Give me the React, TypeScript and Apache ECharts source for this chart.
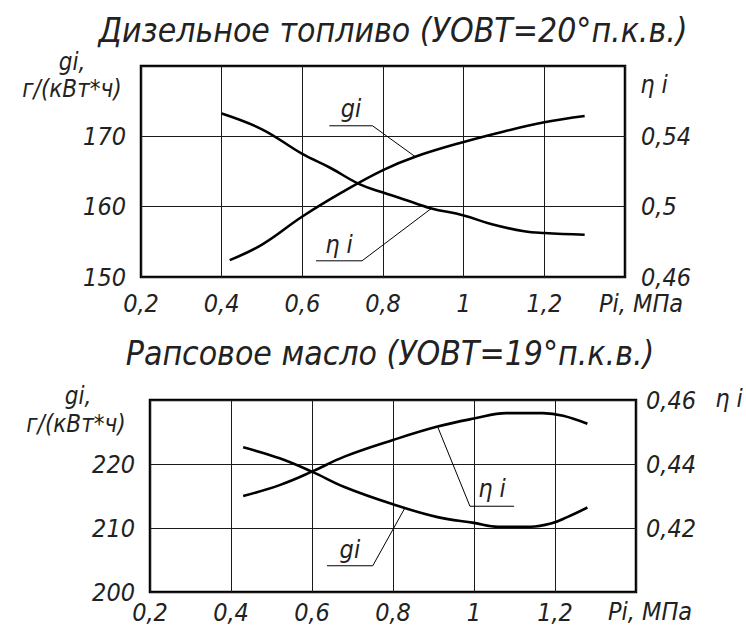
import React, { useEffect, useRef } from 'react';
import * as echarts from 'echarts';

// Mean effective pressure axis, MPa
const piMin = 0.2;
const piMax = 1.4;
const piStep = 0.2;

// Diesel fuel (injection advance 20° crank angle)
const dieselGiPi = [0.42, 0.5, 0.6, 0.7, 0.8, 0.88, 1.0, 1.1, 1.2, 1.3];
const dieselGi = [152.4, 154.6, 158.6, 162.1, 165.2, 167.1, 169.2, 170.7, 172.0, 172.9];
const dieselEtaPi = [0.4, 0.5, 0.6, 0.67, 0.74, 0.8, 0.88, 0.92, 1.0, 1.07, 1.15, 1.2, 1.3];
const dieselEta = [0.553, 0.544, 0.53, 0.522, 0.513, 0.508, 0.502, 0.499, 0.495, 0.49, 0.486, 0.485, 0.484];

// Rapeseed oil (injection advance 19° crank angle)
const rapeGiPi = [0.43, 0.52, 0.6, 0.68, 0.8, 0.91, 1.0, 1.06, 1.14, 1.19, 1.23, 1.28];
const rapeGi = [222.6, 220.9, 218.8, 216.4, 213.7, 211.7, 210.8, 210.2, 210.2, 210.7, 211.7, 213.2];
const rapeEtaPi = [0.43, 0.52, 0.6, 0.68, 0.8, 0.91, 1.0, 1.08, 1.17, 1.22, 1.28];
const rapeEta = [0.43, 0.4334, 0.4376, 0.4423, 0.4475, 0.4517, 0.4542, 0.4559, 0.4559, 0.4551, 0.4526];

// Axis ranges: [min, max, step]
const dieselGiRange = [150, 180, 10];
const dieselEtaRange = [0.46, 0.58, 0.04];
const rapeGiRange = [200, 230, 10];
const rapeEtaRange = [0.4, 0.46, 0.02];

// Titles and captions
const titleDiesel = 'Дизельное топливо (УОВТ=20°п.к.в.)';
const titleRape = 'Рапсовое масло (УОВТ=19°п.к.в.)';
const giName = 'gi,';
const giUnit = 'г/(кВт*ч)';
const etaName = 'η i';
const piName = 'Pi, МПа';

// Callout labels: [text, grid, yAxis, shelf x1, shelf x2, shelf y, text y, leader side, anchor x, anchor y]
const callouts: [string, number, number, number, number, number, number, 'left' | 'right', number, number][] = [
  ['gi', 0, 0, 0.667, 0.774, 171.5, 173.9, 'right', 0.88, 167.1],
  ['η i', 0, 1, 0.634, 0.748, 0.4692, 0.4784, 'right', 0.92, 0.499],
  ['η i', 1, 3, 0.99, 1.099, 0.4268, 0.4324, 'left', 0.91, 0.4517],
  ['gi', 1, 2, 0.637, 0.75, 204.1, 206.6, 'right', 0.83, 213.2],
];

const FONT = '"DejaVu Sans Condensed", "DejaVu Sans", sans-serif';
const INK = '#222';

const fmt = (v: number) => String(+v.toFixed(2)).replace('.', ',');
const zip = (xs: number[], ys: number[]) => xs.map((x, i) => [x, ys[i]]);

export default function App() {
  const ref = useRef<HTMLDivElement>(null);

  useEffect(() => {
    if (!ref.current) return;
    const chart = echarts.init(ref.current, null, { renderer: 'svg' });

    const labelStyle = {
      fontFamily: FONT,
      fontStyle: 'italic' as const,
      fontSize: 25,
      color: INK,
    };

    const xAxis = (gridIndex: number, margin: number) => ({
      type: 'value' as const,
      gridIndex,
      min: piMin,
      max: piMax,
      interval: piStep,
      axisLine: { show: false },
      axisTick: { show: false },
      splitLine: { show: true, lineStyle: { color: '#1a1a1a', width: 1 } },
      axisLabel: {
        ...labelStyle,
        margin,
        formatter: (v: number) => (v > 1.3 ? '' : fmt(v)),
      },
    });

    const yAxis = (
      gridIndex: number,
      position: 'left' | 'right',
      range: number[],
      hide: number,
      split: boolean,
      margin: number,
    ) => ({
      type: 'value' as const,
      gridIndex,
      position,
      min: range[0],
      max: range[1],
      interval: range[2],
      axisLine: { show: false },
      axisTick: { show: false },
      splitLine: { show: split, lineStyle: { color: '#1a1a1a', width: 1 } },
      axisLabel: {
        ...labelStyle,
        margin,
        formatter: (v: number) => (Math.abs(v - hide) < 1e-6 ? '' : fmt(v)),
      },
    });

    const curve = (xAxisIndex: number, yAxisIndex: number, data: number[][], name: string) => ({
      type: 'line' as const,
      name,
      xAxisIndex,
      yAxisIndex,
      data,
      smooth: 0.4,
      symbol: 'none',
      lineStyle: { color: '#000', width: 2.6 },
      silent: true,
    });

    chart.setOption({
      animation: false,
      grid: [
        { left: 141, right: 121, top: 66, height: 211, show: true, borderColor: '#000', borderWidth: 2.5 },
        { left: 150, right: 110, top: 400, height: 192, show: true, borderColor: '#000', borderWidth: 2.5 },
      ],
      xAxis: [xAxis(0, 14), xAxis(1, 8)],
      yAxis: [
        yAxis(0, 'left', dieselGiRange, 180, true, 15),
        yAxis(0, 'right', dieselEtaRange, 0.58, false, 16),
        yAxis(1, 'left', rapeGiRange, 230, true, 15),
        yAxis(1, 'right', rapeEtaRange, 0.4, false, 10),
      ],
      series: [
        curve(0, 0, zip(dieselGiPi, dieselGi), 'gi дизельное топливо'),
        curve(0, 1, zip(dieselEtaPi, dieselEta), 'ηi дизельное топливо'),
        curve(1, 2, zip(rapeGiPi, rapeGi), 'gi рапсовое масло'),
        curve(1, 3, zip(rapeEtaPi, rapeEta), 'ηi рапсовое масло'),
      ],
    });

    const txt = (text: string, x: number, y: number, size: number, align = 'center') => ({
      type: 'text',
      x,
      y,
      silent: true,
      style: {
        text,
        fontFamily: FONT,
        fontStyle: 'italic',
        fontSize: size,
        fill: INK,
        textAlign: align,
        textVerticalAlign: 'middle',
      },
    });

    const graphics: any[] = [
      txt(titleDiesel, 393, 30, 33.5),
      txt(titleRape, 390, 353, 33.5),
      txt(giName, 72, 62, 24),
      txt(giUnit, 72, 89, 24),
      txt(etaName, 654, 84, 25),
      txt(piName, 641, 303, 25),
      txt(giName, 78, 396, 24),
      txt(giUnit, 76, 424, 24),
      txt(etaName, 729, 398, 25),
      txt(piName, 650, 611, 25),
    ];

    callouts.forEach(([text, grid, yIdx, x1, x2, sy, ty, side, ax, ay]) => {
      const finder = { xAxisIndex: grid, yAxisIndex: yIdx };
      const p1 = chart.convertToPixel(finder, [x1, sy]) as number[];
      const p2 = chart.convertToPixel(finder, [x2, sy]) as number[];
      const pt = chart.convertToPixel(finder, [(x1 + x2) / 2, ty]) as number[];
      const pa = chart.convertToPixel(finder, [ax, ay]) as number[];
      const start = side === 'right' ? p2 : p1;
      graphics.push({
        type: 'line',
        silent: true,
        shape: { x1: p1[0], y1: p1[1], x2: p2[0], y2: p2[1] },
        style: { stroke: '#000', lineWidth: 1 },
      });
      graphics.push({
        type: 'line',
        silent: true,
        shape: { x1: start[0], y1: start[1], x2: pa[0], y2: pa[1] },
        style: { stroke: '#000', lineWidth: 1 },
      });
      graphics.push(txt(text, pt[0], pt[1], 25));
    });

    chart.setOption({ graphic: graphics });

    return () => chart.dispose();
  }, []);

  return (
    <div
      ref={ref}
      style={{ position: 'fixed', left: 0, top: 0, width: 746, height: 626, background: '#fff' }}
    />
  );
}
